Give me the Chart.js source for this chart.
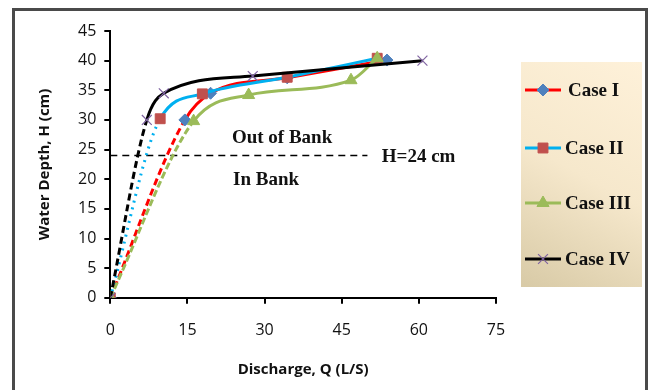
<!DOCTYPE html>
<html>
<head>
<meta charset="utf-8">
<script src="https://cdn.jsdelivr.net/npm/chart.js@4"></script>
<style>
  body { margin: 0; background: #fff; }
  #wrap { position: relative; width: 655px; height: 390px; }
  #frame { position: absolute; left: 12px; top: 8px; width: 636px; height: 400px;
           border: 3px solid #4a4a4a; box-sizing: border-box; pointer-events: none; }
</style>
</head>
<body>
<div id="wrap">
  <canvas id="chart" width="655" height="390"></canvas>
  <div id="frame"></div>
</div>
<script>
// discharge Q (L/S) and water depth H (cm)
const caseIQ = [0, 14.5, 19.5, 34.4, 53.8];
const caseIH = [0, 30.0, 34.5, 37.1, 40.1];
const caseIIQ = [0, 9.7, 17.9, 34.4, 51.9];
const caseIIH = [0, 30.2, 34.4, 37.2, 40.4];
const caseIIIQ = [0, 16.2, 26.9, 46.8, 51.9];
const caseIIIH = [0, 29.8, 34.2, 36.7, 40.4];
const caseIVQ = [0, 7.1, 10.4, 27.7, 60.7];
const caseIVH = [0, 30.0, 34.5, 37.4, 40.0];
const bankQ = [0, 50];
const bankH = [24, 24];
const seriesNames = ['Case I', 'Case II', 'Case III', 'Case IV'];
const xTicks = [0, 15, 30, 45, 60, 75];
const yTicks = [0, 5, 10, 15, 20, 25, 30, 35, 40, 45];

const toPts = (qs, hs) => qs.map((q, i) => ({ x: q, y: hs[i] }));

const styles = [
    { line: '#ff0000', mark: '#4f81bd', point: 'rectRot', r: 6, dash: [7, 4] },
    { line: '#00b0f0', mark: '#c0504d', point: 'rect', r: 7, dash: [2, 5] },
    { line: '#9bbb59', mark: '#9bbb59', point: 'triangle', r: 7, dash: [7, 3] },
    { line: '#000000', mark: '#8064a2', point: 'crossRot', r: 7, dash: [7, 4] }
];

const seriesData = [
    toPts(caseIQ, caseIH),
    toPts(caseIIQ, caseIIH),
    toPts(caseIIIQ, caseIIIH),
    toPts(caseIVQ, caseIVH)
];

var datasets = seriesData.map((pts, i) => {
    var s = styles[i];
    return {
        label: seriesNames[i],
        data: pts,
        borderColor: s.line,
        borderWidth: 3,
        backgroundColor: s.mark,
        pointBackgroundColor: s.mark,
        pointBorderColor: s.mark,
        pointBorderWidth: s.point == 'crossRot' ? 1.2 : 1,
        pointStyle: s.point,
        pointRadius: s.r,
        cubicInterpolationMode: 'monotone',
        segment: {
            borderDash: ctx => ctx.p0DataIndex === 0 ? s.dash : undefined
        },
        order: 4 - i
    };
});

datasets.push({
    label: 'H=24',
    data: toPts(bankQ, bankH),
    borderColor: '#000',
    borderWidth: 1.5,
    borderDash: [7, 5],
    pointRadius: 0,
    order: 10
});

// text labels and the legend box
const notes = {
    id: 'notes',
    afterDraw(chart) {
        var ctx = chart.ctx;
        var xs = chart.scales.x, ys = chart.scales.y;
        ctx.save();
        ctx.fillStyle = '#111';
        ctx.font = 'bold 19px "Liberation Serif", serif';
        ctx.textBaseline = 'middle';
        ctx.textAlign = 'center';
        ctx.fillText('Out of Bank', xs.getPixelForValue(33.4), ys.getPixelForValue(27));
        ctx.fillText('In Bank', xs.getPixelForValue(30.3), ys.getPixelForValue(19.9));
        ctx.textAlign = 'left';
        ctx.fillText('H=24 cm', xs.getPixelForValue(52.8), ys.getPixelForValue(23.8));

        // legend
        var bx = 521, by = 62, bw = 121, bh = 225;
        var g = ctx.createLinearGradient(bx + bw, by, bx, by + bh);
        g.addColorStop(0, '#fef1d9');
        g.addColorStop(0.5, '#f6e8cc');
        g.addColorStop(1, '#d8caa6');
        ctx.fillStyle = g;
        ctx.fillRect(bx, by, bw, bh);
        var rows = [90, 148, 203, 259];
        rows.forEach((yy, i) => {
            var s = styles[i];
            ctx.strokeStyle = s.line;
            ctx.lineWidth = 3;
            ctx.setLineDash([]);
            ctx.beginPath();
            ctx.moveTo(525, yy);
            ctx.lineTo(561, yy);
            ctx.stroke();
            ctx.fillStyle = s.mark;
            ctx.strokeStyle = s.mark;
            ctx.lineWidth = s.point == 'crossRot' ? 1.2 : 1;
            Chart.helpers.drawPoint(ctx, { pointStyle: s.point, radius: s.r, rotation: 0, borderWidth: 1 }, 543, yy);
            ctx.fillStyle = '#111';
            ctx.font = 'bold 19px "Liberation Serif", serif';
            ctx.textAlign = 'left';
            ctx.fillText(seriesNames[i], i == 0 ? 568 : 565, yy + 1);
        });
        ctx.restore();
    }
};

var tickFont = { family: '"Open Sans", sans-serif', size: 16 };
var titleFont = { family: '"Open Sans", sans-serif', size: 15, weight: 'bold' };

new Chart(document.getElementById('chart').getContext('2d'), {
    type: 'line',
    data: { datasets: datasets },
    options: {
        responsive: false,
        animation: false,
        layout: { padding: { left: 28, right: 159, top: 31, bottom: 9 } },
        plugins: { legend: { display: false }, tooltip: { enabled: false } },
        scales: {
            x: {
                type: 'linear',
                min: 0, max: 75,
                afterBuildTicks: axis => { axis.ticks = xTicks.map(v => ({ value: v })); },
                border: { color: '#000', width: 2 },
                grid: { drawOnChartArea: false, drawTicks: true, tickLength: 6, color: '#000', lineWidth: 2 },
                ticks: { color: '#111', font: tickFont, padding: 17, maxRotation: 0 },
                title: { display: true, text: 'Discharge, Q (L/S)', color: '#111', font: titleFont, padding: { top: 4, bottom: 2 } }
            },
            y: {
                type: 'linear',
                min: 0, max: 45,
                afterBuildTicks: axis => { axis.ticks = yTicks.map(v => ({ value: v })); },
                border: { color: '#000', width: 2 },
                grid: { drawOnChartArea: false, drawTicks: true, tickLength: 6, color: '#000', lineWidth: 2 },
                ticks: { color: '#111', font: tickFont, padding: 8 },
                title: { display: true, text: 'Water Depth, H (cm)', color: '#111', font: titleFont, padding: { top: 8, bottom: 16 } }
            }
        }
    },
    plugins: [notes]
});
</script>
</body>
</html>
